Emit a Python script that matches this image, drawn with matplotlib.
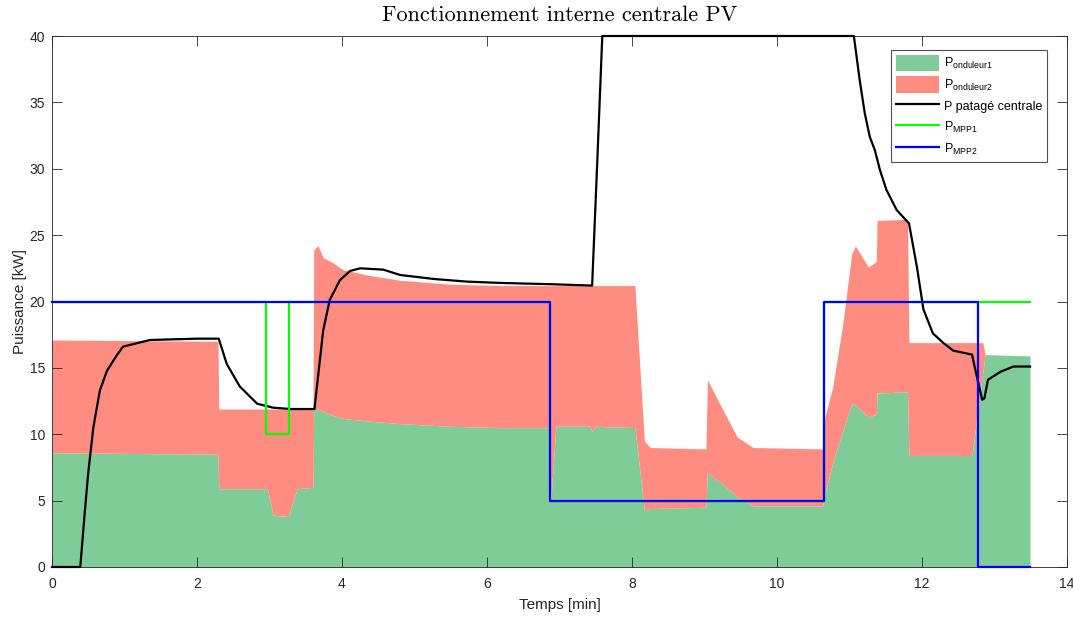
import matplotlib
matplotlib.use("Agg")
import matplotlib.pyplot as plt
from matplotlib.patches import Patch
from matplotlib.lines import Line2D
import numpy as np

# ---- data (time in minutes, power in kW) ----
t_ond = [0.00, 2.29, 2.30, 2.97, 3.05, 3.26, 3.38, 3.60, 3.61, 3.67, 3.74, 3.88, 4.01, 4.34,
         4.80, 5.49, 6.18, 6.86, 6.88, 6.95, 7.42, 7.45, 7.50, 8.04, 8.17, 8.25, 9.02, 9.04,
         9.21, 9.45, 9.67, 10.63, 10.66, 10.77, 10.91, 11.03, 11.08, 11.26, 11.37, 11.38,
         11.80, 11.82, 12.69, 12.84, 12.87, 13.49]
p_ond1 = [8.6, 8.5, 5.9, 5.9, 3.9, 3.8, 5.9, 6.0, 12.0, 11.9, 11.7, 11.4, 11.2, 11.0,
          10.8, 10.6, 10.5, 10.5, 5.0, 10.6, 10.6, 10.2, 10.6, 10.5, 4.3, 4.4, 4.5, 7.1,
          6.4, 5.3, 4.6, 4.6, 5.5, 7.9, 10.3, 12.3, 12.2, 11.3, 11.5, 13.1,
          13.2, 8.4, 8.4, 14.7, 16.0, 15.9]
p_ond2 = [8.5, 8.5, 6.0, 6.0, 8.0, 8.1, 6.0, 5.9, 11.9, 12.3, 11.6, 11.5, 11.2, 11.0,
          10.8, 10.7, 10.7, 10.7, 16.2, 10.6, 10.6, 11.0, 10.6, 10.7, 5.2, 4.6, 4.4, 7.0,
          5.9, 4.5, 4.4, 4.3, 5.8, 5.7, 8.1, 11.3, 12.0, 11.3, 11.5, 13.0,
          13.0, 8.5, 8.5, 2.2, 0.0, 0.0]

t_central = [0.00, 0.39, 0.45, 0.50, 0.57, 0.66, 0.76, 0.90, 0.98, 1.35, 2.00, 2.30, 2.41,
             2.59, 2.83, 3.05, 3.30, 3.62, 3.74, 3.83, 3.97, 4.11, 4.25, 4.57, 4.80, 5.26,
             5.72, 6.18, 6.90, 7.45, 7.52, 7.59, 11.06, 11.14, 11.21, 11.28, 11.35, 11.42,
             11.51, 11.65, 11.80, 11.82, 11.93, 12.02, 12.15, 12.29, 12.43, 12.69, 12.75,
             12.83, 12.86, 12.91, 13.08, 13.26, 13.49]
p_central = [0.0, 0.0, 4.0, 7.1, 10.5, 13.3, 14.8, 16.0, 16.6, 17.1, 17.2, 17.2, 15.3,
             13.6, 12.3, 12.0, 11.9, 11.9, 17.8, 20.1, 21.6, 22.3, 22.5, 22.4, 22.0, 21.7,
             21.5, 21.4, 21.3, 21.2, 30.4, 40.0, 40.0, 36.7, 34.2, 32.4, 31.4, 29.9,
             28.4, 26.9, 26.0, 25.9, 22.6, 19.4, 17.6, 16.9, 16.3, 16.0, 14.5,
             12.6, 12.7, 14.1, 14.7, 15.1, 15.1]

t_mpp1 = [0.00, 2.95, 3.27, 6.865, 10.645, 13.49]
p_mpp1 = [20, 10, 20, 5, 20, 20]
t_mpp2 = [0.00, 6.875, 10.655, 12.77, 13.49]
p_mpp2 = [20, 5, 20, 0, 0]

title = "Fonctionnement interne centrale PV"
labels = [r"P$_\mathregular{onduleur1}$", r"P$_\mathregular{onduleur2}$",
          "P patagé centrale", r"P$_\mathregular{MPP1}$", r"P$_\mathregular{MPP2}$"]

# ---- style ----
plt.rcParams['font.family'] = ['Liberation Sans', 'DejaVu Sans']
plt.rcParams['mathtext.fontset'] = 'custom'
plt.rcParams['mathtext.rm'] = 'Liberation Sans'

green_fill = '#80CC99'
red_fill = '#FF8C80'
axcol = '#262626'

fig = plt.figure(figsize=(10.73, 6.17), dpi=100)
ax_l, ax_r, ax_t, ax_b = 52, 1067, 36, 567
ax = fig.add_axes([ax_l/1073, (617-ax_b)/617, (ax_r-ax_l)/1073, (ax_b-ax_t)/617])

t = np.array(t_ond)
p1 = np.array(p_ond1)
p2 = np.array(p_ond2)
ax.fill_between(t, 0, p1, color=green_fill, linewidth=0)
ax.fill_between(t, p1, p1 + p2, color=red_fill, linewidth=0)
ax.plot(t_central, p_central, color='black', lw=1.6, zorder=4, clip_on=False)
ax.plot(t_mpp1, p_mpp1, color='#00FF00', lw=1.6, drawstyle='steps-post', zorder=5)
ax.plot(t_mpp2, p_mpp2, color='#0000FF', lw=1.6, drawstyle='steps-post', zorder=6,
        clip_on=False)

ax.set_xlim(0, 14)
ax.set_ylim(0, 40)
ax.set_xticks(np.arange(0, 15, 2))
ax.set_yticks(np.arange(0, 41, 5))
ax.tick_params(direction='in', top=True, right=True, length=7, width=0.6,
               colors=axcol, labelsize=10, pad=5)
ax.tick_params(axis='x', pad=7)
for s in ax.spines.values():
    s.set_color(axcol)
    s.set_linewidth(0.6)

ax.set_xlabel("Temps [min]", fontsize=11, color=axcol, labelpad=5)
ax.set_ylabel("Puissance [kW]", fontsize=11, color=axcol, labelpad=2)
ax.set_title(title, fontsize=16, family='cmr10', pad=11)

handles = [Patch(facecolor=green_fill, edgecolor='none'),
           Patch(facecolor=red_fill, edgecolor='none'),
           Line2D([], [], color='black', lw=1.6),
           Line2D([], [], color='#00FF00', lw=1.6),
           Line2D([], [], color='#0000FF', lw=1.6)]
aw, ah = ax_r - ax_l, ax_b - ax_t
leg = ax.legend(handles, labels, loc='upper right',
                bbox_to_anchor=((1047 - ax_l)/aw, 1 - (50 - ax_t)/ah),
                bbox_transform=ax.transAxes, fontsize=9, frameon=True, fancybox=False,
                edgecolor=axcol, handlelength=3.4, handleheight=1.6, labelspacing=0.42,
                borderpad=0.4, handletextpad=0.4, borderaxespad=0)
leg.get_frame().set_linewidth(0.8)
leg.set_zorder(10)
fig.savefig("out.png", dpi=100)
